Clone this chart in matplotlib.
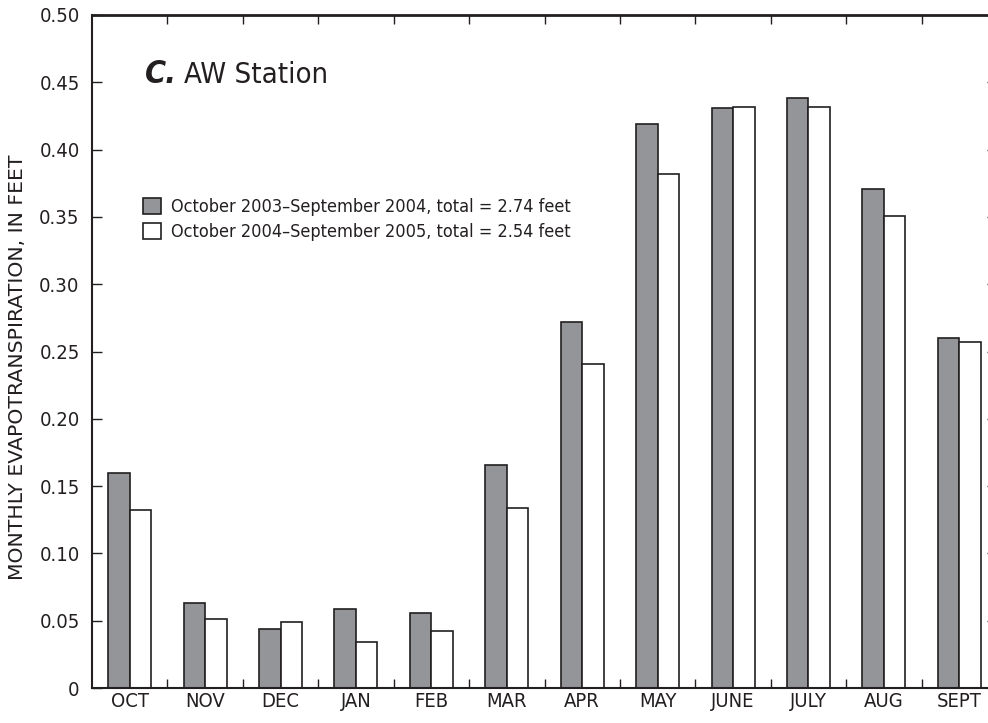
import numpy as np
import matplotlib.pyplot as plt
from matplotlib.patches import Patch

plt.rcParams['font.family'] = ['DejaVu Sans']
plt.rcParams['font.stretch'] = 'condensed'

months = ['OCT', 'NOV', 'DEC', 'JAN', 'FEB', 'MAR', 'APR', 'MAY', 'JUNE', 'JULY', 'AUG', 'SEPT']
et_2004 = [0.160, 0.063, 0.044, 0.059, 0.056, 0.166, 0.272, 0.419, 0.431, 0.438, 0.371, 0.260]
et_2005 = [0.132, 0.051, 0.049, 0.034, 0.042, 0.134, 0.241, 0.382, 0.432, 0.432, 0.351, 0.257]
yticks = [0.0, 0.05, 0.10, 0.15, 0.20, 0.25, 0.30, 0.35, 0.40, 0.45, 0.50]
ylabels = ['0', '0.05', '0.10', '0.15', '0.20', '0.25', '0.30', '0.35', '0.40', '0.45', '0.50']
leg_labels = ['October 2003\u2013September 2004, total = 2.74 feet',
              'October 2004\u2013September 2005, total = 2.54 feet']

gray = '#939598'
ink = '#231f20'

fig = plt.figure(figsize=(9.88, 7.23), dpi=100)
ax = fig.add_axes([92/988, 1 - 688/723, 905/988, 673/723])

x = np.arange(len(months))
w = 0.285
ax.bar(x - w/2, et_2004, w, color=gray, edgecolor=ink, linewidth=1.2, zorder=2)
ax.bar(x + w/2, et_2005, w, color='white', edgecolor=ink, linewidth=1.2, zorder=2)

ax.set_xlim(-0.5, 11.5)
ax.set_ylim(0, 0.5)

# month labels at centres, short tick marks on the month boundaries
ax.set_xticks(x)
ax.set_xticklabels(months, fontsize=14.5, color=ink)
ax.tick_params(axis='x', which='major', length=0, pad=3)
bounds = np.arange(0.5, 11.5, 1.0)
ax.set_xticks(bounds, minor=True)
ax.tick_params(axis='x', which='minor', direction='in', length=6.5, width=1.0,
               top=True, bottom=True, color=ink)

ax.set_yticks(yticks)
ax.set_yticklabels(ylabels, fontsize=14.5, color=ink)
ax.tick_params(axis='y', direction='in', length=7, width=1.0, left=True, right=True,
               pad=9, color=ink)

for side in ['left', 'bottom']:
    ax.spines[side].set_linewidth(1.5)
    ax.spines[side].set_color(ink)
ax.spines['top'].set_linewidth(2.0)
ax.spines['top'].set_color(ink)
ax.spines['right'].set_visible(False)

ax.set_ylabel('MONTHLY EVAPOTRANSPIRATION, IN FEET', fontsize=14.7,
              fontstretch='normal', color=ink)
ax.yaxis.set_label_coords(-0.0715, (688 - 367) / 673)

ax.text(0.058, 0.899, 'C.', transform=ax.transAxes, fontsize=23, fontweight='bold',
        fontstyle='italic', color=ink, va='baseline')
ax.text(0.102, 0.899, 'AW Station', transform=ax.transAxes, fontsize=21,
        color=ink, va='baseline')

handles = [Patch(facecolor=gray, edgecolor=ink, linewidth=1.2),
           Patch(facecolor='white', edgecolor=ink, linewidth=1.2)]
ax.legend(handles, leg_labels, loc='upper left', bbox_to_anchor=(0.056, 0.728),
          frameon=False, fontsize=13.0, handlelength=1.0, handleheight=1.0,
          handletextpad=0.55, labelspacing=0.35, borderaxespad=0, borderpad=0,
          labelcolor=ink)

fig.savefig('out.png', dpi=100)
